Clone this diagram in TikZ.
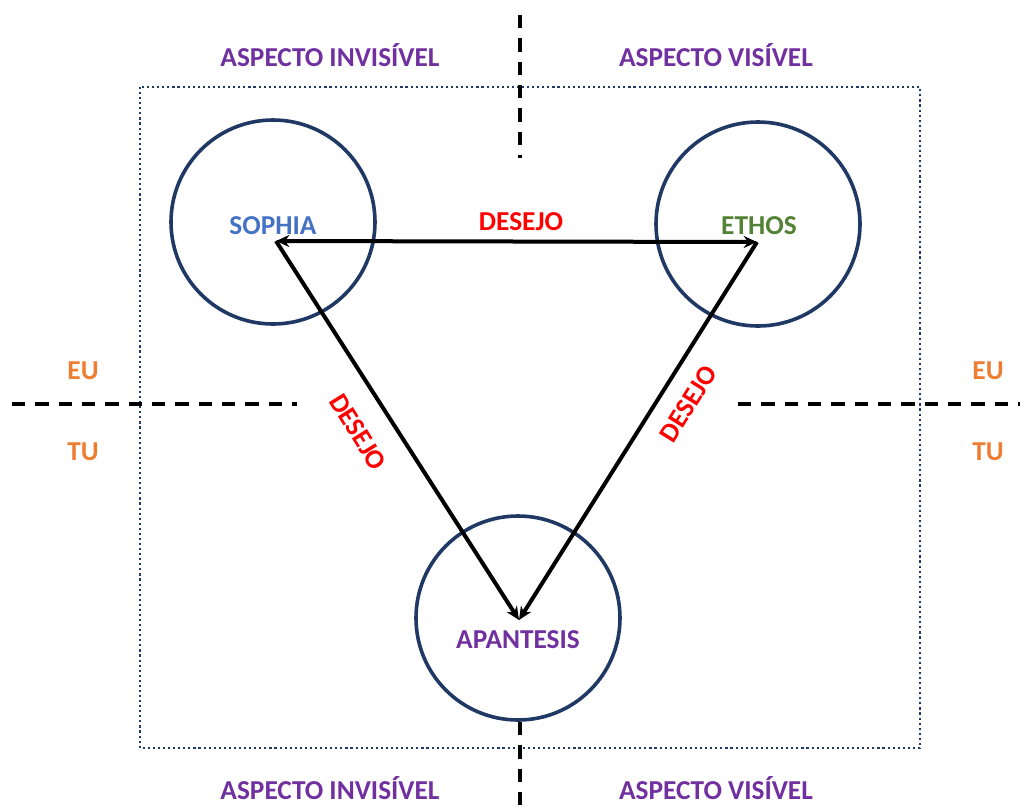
\documentclass[tikz,border=0pt]{standalone}
\usepackage{fontspec}
\setmainfont{Carlito}
\usetikzlibrary{arrows.meta}
\definecolor{navy}{HTML}{1F3864}
\definecolor{lblpurple}{HTML}{7030A0}
\definecolor{lblblue}{HTML}{4472C4}
\definecolor{lblgreen}{HTML}{548235}
\definecolor{lblorange}{HTML}{ED7D31}
\definecolor{lblred}{HTML}{FF0000}
\tikzset{
  lbl/.style={font=\fontsize{20.5}{24}\selectfont\bfseries, inner sep=0pt},
  ring/.style={circle, draw=navy, line width=2.7pt, minimum size=153pt, inner sep=0pt},
  divider/.style={black, line width=2.5pt, dash pattern=on 10pt off 7.5pt},
  frame/.style={draw=navy, line width=2pt, dash pattern=on 1.6pt off 2.2pt},
  link/.style={black, line width=3pt, -{Stealth[length=10pt,width=9pt]}},
  biglink/.style={black, line width=3pt, {Stealth[length=10pt,width=9pt]}-{Stealth[length=10pt,width=9pt]}}
}
\begin{document}
\begin{tikzpicture}[x=0.75pt,y=-0.75pt]
\useasboundingbox (0,0) rectangle (1029,808);
% frame
\draw[frame] (140,87) rectangle (920,748);
% dividers
\draw[divider] (520,15) -- (520,158);
\draw[divider] (520,722) -- (520,808);
\draw[divider] (12,404) -- (297,404);
\draw[divider] (738,404) -- (1020,404);
% circles
\node[ring] (csoph) at (273,222) {};
\node[ring] (cethos) at (758,224) {};
\node[ring] (capan) at (518,618) {};
% labels in circles
\node[lbl, text=lblblue] (tsoph) at (273,226) {SOPHIA};
\node[lbl, text=lblgreen] (tethos) at (759,226) {ETHOS};
\node[lbl, text=lblpurple] (tapan) at (518,640) {APANTESIS};
% connector points
\coordinate (psoph) at (276,241);
\coordinate (pethos) at (757,242);
\coordinate (papan) at (519,620);
\draw[biglink] (psoph) -- (pethos);
\draw[link] (psoph) -- (papan);
\draw[link] (pethos) -- (papan);
% desejo labels
\node[lbl, text=lblred] (d1) at (521,222) {DESEJO};
\node[lbl, text=lblred, rotate=-58] (d2) at (358,432) {DESEJO};
\node[lbl, text=lblred, rotate=58] (d3) at (688,404) {DESEJO};
% aspect labels
\node[lbl, text=lblpurple] (ai1) at (330,55) {ASPECTO INVISÍVEL};
\node[lbl, text=lblpurple] (av1) at (716,55) {ASPECTO VISÍVEL};
\node[lbl, text=lblpurple] (ai2) at (330,788) {ASPECTO INVISÍVEL};
\node[lbl, text=lblpurple] (av2) at (716,788) {ASPECTO VISÍVEL};
% EU / TU
\node[lbl, text=lblorange] (eu1) at (83,371) {EU};
\node[lbl, text=lblorange] (tu1) at (83,452) {TU};
\node[lbl, text=lblorange] (eu2) at (988,371) {EU};
\node[lbl, text=lblorange] (tu2) at (988,452) {TU};
\end{tikzpicture}
\end{document}
